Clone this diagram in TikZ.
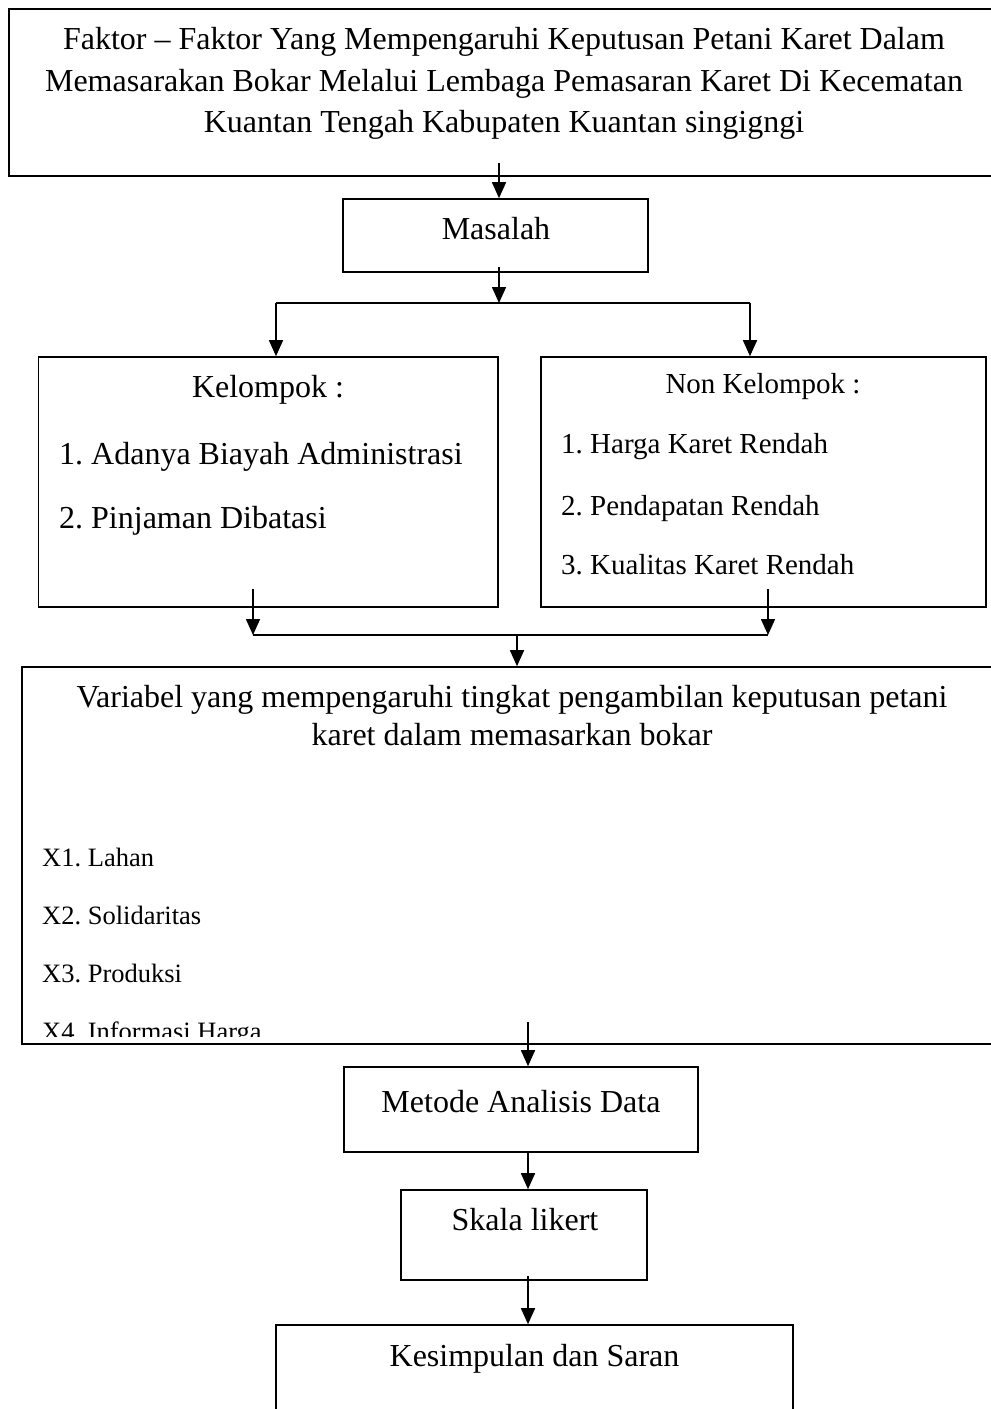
\documentclass[tikz,border=0pt]{standalone}
\usepackage{fontspec}
\setmainfont{Liberation Serif}
\usetikzlibrary{arrows.meta}
\frenchspacing
\begin{document}
\begin{tikzpicture}[x=1pt,y=-1pt,
  box/.style={draw,line width=1.6pt,inner sep=0pt},
  big/.style={font=\fontsize{32}{41}\selectfont,inner sep=0pt},
  mid/.style={font=\fontsize{29}{36}\selectfont,inner sep=0pt},
  small/.style={font=\fontsize{26.5}{32}\selectfont,inner sep=0pt},
  arr/.style={line width=1.6pt,-{Triangle[width=14pt,length=16pt]}},
  ln/.style={line width=1.6pt}]
\useasboundingbox (0,0) rectangle (991,1409);
\clip (0,0) rectangle (991,1409);
% boxes
\node[box,minimum width=991pt,minimum height=167pt] (top) at (504.75,92.5) {};
\node[box,minimum width=305pt,minimum height=73pt] (masalah) at (495.5,235.5) {};
\node[box,minimum width=459.5pt,minimum height=250pt] (kel) at (268.25,482) {};
\node[box,minimum width=445pt,minimum height=250pt] (non) at (763.5,482) {};
\node[box,minimum width=978pt,minimum height=377pt] (var) at (511,855.5) {};
\node[box,minimum width=354pt,minimum height=85pt] (metode) at (521,1109.5) {};
\node[box,minimum width=246pt,minimum height=90pt] (skala) at (524,1235) {};
\node[box,minimum width=517pt,minimum height=95pt] (kes) at (534.5,1372.5) {};
% texts
\node[big,anchor=base] (t1) at (504,49) {Faktor -- Faktor Yang Mempengaruhi Keputusan Petani Karet Dalam};
\node[big,anchor=base] (t2) at (504,91) {Memasarakan Bokar Melalui Lembaga Pemasaran Karet Di Kecematan};
\node[big,anchor=base] (t3) at (504,132) {Kuantan Tengah Kabupaten Kuantan singigngi};
\node[big,anchor=base] (tm) at (496,239) {Masalah};
\node[big,anchor=base] (tk) at (268,397) {Kelompok :};
\node[big,anchor=base west] (tk1) at (59,464) {1. Adanya Biayah Administrasi};
\node[big,anchor=base west] (tk2) at (59,528) {2. Pinjaman Dibatasi};
\node[mid,anchor=base] (tn) at (763,393) {Non Kelompok :};
\node[mid,anchor=base west] (tn1) at (561,453) {1. Harga Karet Rendah};
\node[mid,anchor=base west] (tn2) at (561,515) {2. Pendapatan Rendah};
\node[mid,anchor=base west] (tn3) at (561,574) {3. Kualitas Karet Rendah};
\node[big,anchor=base] (tv1) at (512,707) {Variabel yang mempengaruhi tingkat pengambilan keputusan petani};
\node[big,anchor=base] (tv2) at (512,745) {karet dalam memasarkan bokar};
\node[small,anchor=base west] (x1) at (42,866) {X1. Lahan};
\node[small,anchor=base west] (x2) at (42,924) {X2. Solidaritas};
\node[small,anchor=base west] (x3) at (42,982) {X3. Produksi};
\begin{scope}
\clip (22,667) rectangle (1000,1036);
\node[small,anchor=base west] (x4) at (42,1040) {X4. Informasi Harga};
\end{scope}
\node[big,anchor=base] (tme) at (521,1112) {Metode Analisis Data};
\node[big,anchor=base] (tsk) at (525,1230) {Skala likert};
\node[big,anchor=base] (tke) at (534.5,1366) {Kesimpulan dan Saran};
% connectors
\coordinate (c1) at (499,163);
\draw[arr] (c1) -- (c1 |- masalah.north);
\coordinate (c2) at (499,267);
\coordinate (j1) at (499,303);
\draw[arr] (c2) -- (j1);
\coordinate (jl) at (276,303);
\coordinate (jr) at (750,303);
\draw[ln] (jl) -- (jr);
\draw[arr] (jl) -- (jl |- kel.north);
\draw[arr] (jr) -- (jr |- non.north);
\coordinate (k1) at (253,589);
\coordinate (k2) at (253,635);
\coordinate (n1) at (768,589);
\coordinate (n2) at (768,635);
\draw[arr] (k1) -- (k2);
\draw[arr] (n1) -- (n2);
\draw[ln] (k2) -- (n2);
\coordinate (j2) at (517,635);
\draw[arr] (j2) -- (j2 |- var.north);
\coordinate (v1) at (528,1022);
\draw[arr] (v1) -- (v1 |- metode.north);
\draw[arr] (v1 |- metode.south) -- (v1 |- skala.north);
\coordinate (s1) at (528,1276);
\draw[arr] (s1) -- (s1 |- kes.north);
\end{tikzpicture}
\end{document}
